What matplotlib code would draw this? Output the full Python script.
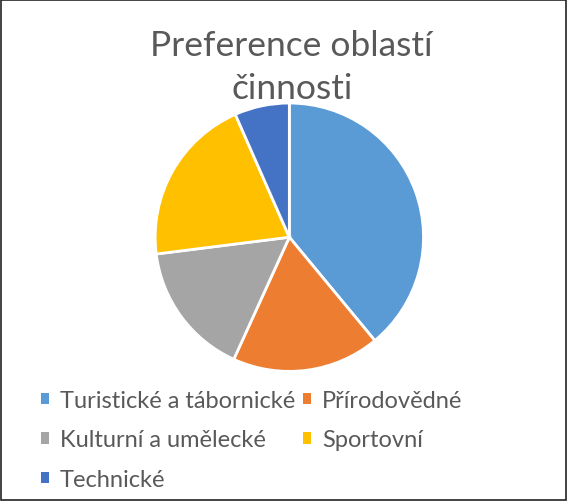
import matplotlib as mpl
import matplotlib.pyplot as plt
from matplotlib.patches import Rectangle

mpl.rcParams["font.family"] = ["Lato", "DejaVu Sans"]

labels = ["Turistické a tábornické", "Přírodovědné", "Kulturní a umělecké",
          "Sportovní", "Technické"]
values = [39.0, 17.8, 16.2, 20.4, 6.6]
colors = ["#5B9BD5", "#ED7D31", "#A5A5A5", "#FFC000", "#4472C4"]

fig = plt.figure(figsize=(5.67, 5.02), dpi=100)
fig.patch.set_facecolor("white")
fig.patches.append(Rectangle((0.001, 0.001), 0.997, 0.997, transform=fig.transFigure,
                             fill=False, edgecolor="#222222", linewidth=1.2))

ax = fig.add_axes([0.2713, 0.2555, 0.478, 0.540])
wedges, _ = ax.pie(values, colors=colors, startangle=90, counterclock=False,
                   radius=1, wedgeprops=dict(edgecolor="white", linewidth=2))
ax.set_xlim(-1.01, 1.01)
ax.set_ylim(-1.01, 1.01)
ax.set_aspect("equal")

fig.text(0.513, 1 - 56 / 502, "Preference oblastí", ha="center", va="baseline",
         fontsize=25.5, color="#595959")
fig.text(0.515, 1 - 99 / 502, "činnosti", ha="center", va="baseline",
         fontsize=25.5, color="#595959")

order = [0, 2, 4, 1, 3]
leg = fig.legend([wedges[i] for i in order], [labels[i] for i in order],
                 ncol=2, loc="upper left", bbox_to_anchor=(0.072, 1 - 391 / 502),
                 frameon=False, fontsize=17, handlelength=0.35, handleheight=0.35,
                 handletextpad=0.45, columnspacing=0.35, labelspacing=0.78,
                 borderaxespad=0, borderpad=0)
for t in leg.get_texts():
    t.set_color("#595959")
for h in leg.legend_handles:
    h.set_edgecolor("none")

fig.savefig("out.png", dpi=100)
